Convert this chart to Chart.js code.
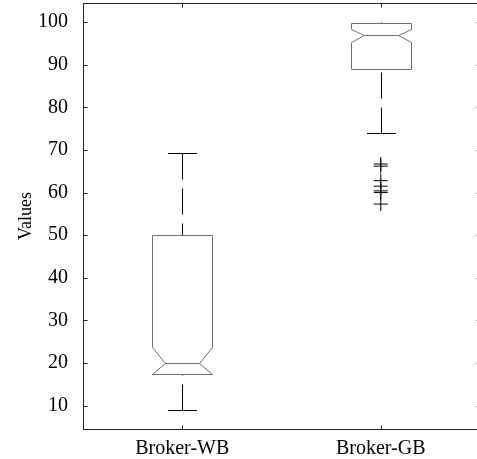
<!DOCTYPE html>
<html>
<head>
<meta charset="utf-8">
<script src="https://cdn.jsdelivr.net/npm/chart.js@4.4.1/dist/chart.umd.min.js"></script>
<style>
body{margin:0;overflow:hidden;background:#fff}
</style>
</head>
<body>
<canvas id="boxChart" width="484" height="459"></canvas>
<script>
// data
var categories = ["Broker-WB", "Broker-GB"];
var whiskerLow = [9, 74];
var q1 = [17.4, 89];
var notchLow = [17.4, 95.4];
var median = [20, 97];
var notchHigh = [23.8, 98.5];
var q3 = [50, 99.8];
var whiskerHigh = [69.2, 100];
var outliersGB = [66.7, 66.2, 62.8, 61.5, 60.4, 60.0, 57.3];
var yTicks = [10, 20, 30, 40, 50, 60, 70, 80, 90, 100];

var serif = "'Liberation Serif', 'Times New Roman', serif";

function px(v){ return Math.round(v) + 0.5; }

var boxPlugin = {
  id: 'boxes',
  afterDatasetsDraw: function(chart){
    var ctx = chart.ctx, xs = chart.scales.x, ys = chart.scales.y;
    ctx.save();
    ctx.lineWidth = 1;
    for (var i = 0; i < categories.length; i++) {
      var xc = px(xs.getPixelForValue(i + 1));
      var L = px(xs.getPixelForValue(i + 1 - 0.152));
      var R = px(xs.getPixelForValue(i + 1 + 0.152));
      var n = xs.getPixelForValue(i + 1 + 0.065) - xs.getPixelForValue(i + 1);
      var cap = xs.getPixelForValue(i + 1 + 0.075) - xs.getPixelForValue(i + 1);
      var yq1 = px(ys.getPixelForValue(q1[i]));
      var yq3 = px(ys.getPixelForValue(q3[i]));
      var ym = px(ys.getPixelForValue(median[i]));
      var ynl = px(ys.getPixelForValue(notchLow[i]));
      var ynh = px(ys.getPixelForValue(notchHigh[i]));
      var ywl = px(ys.getPixelForValue(whiskerLow[i]));
      var ywh = px(ys.getPixelForValue(whiskerHigh[i]));

      // whiskers, dashed from the cap to the box
      ctx.strokeStyle = '#000';
      ctx.setLineDash([26, 9]);
      ctx.beginPath();
      ctx.moveTo(xc, ywl); ctx.lineTo(xc, yq1);
      ctx.moveTo(xc, ywh); ctx.lineTo(xc, yq3);
      ctx.stroke();
      ctx.setLineDash([]);
      ctx.beginPath();
      ctx.moveTo(Math.round(xc - cap), ywl); ctx.lineTo(Math.round(xc + cap), ywl);
      if (whiskerHigh[i] - q3[i] > 1) {
        ctx.moveTo(Math.round(xc - cap), ywh); ctx.lineTo(Math.round(xc + cap), ywh);
      }
      ctx.stroke();

      // notched box
      ctx.strokeStyle = '#6e6e6e';
      ctx.beginPath();
      ctx.moveTo(L, yq3); ctx.lineTo(R, yq3);
      ctx.lineTo(R, ynh); ctx.lineTo(R - n, ym);
      ctx.lineTo(R, ynl); ctx.lineTo(R, yq1);
      ctx.lineTo(L, yq1); ctx.lineTo(L, ynl);
      ctx.lineTo(L + n, ym); ctx.lineTo(L, ynh);
      ctx.closePath();
      ctx.stroke();
      ctx.beginPath();
      ctx.moveTo(L + n, ym); ctx.lineTo(R - n, ym);
      ctx.stroke();
    }
    ctx.restore();
  },
  afterDraw: function(chart){
    var ctx = chart.ctx, a = chart.chartArea, xs = chart.scales.x, ys = chart.scales.y;
    ctx.save();
    ctx.strokeStyle = '#222';
    ctx.lineWidth = 1;
    ctx.strokeRect(px(a.left), px(a.top), Math.round(a.right - a.left), Math.round(a.bottom - a.top));
    ctx.beginPath();
    yTicks.forEach(function(t){
      var y = px(ys.getPixelForValue(t));
      ctx.moveTo(px(a.left), y); ctx.lineTo(px(a.left) + 4, y);
      ctx.moveTo(px(a.right), y); ctx.lineTo(px(a.right) - 4, y);
    });
    categories.forEach(function(c, i){
      var x = px(xs.getPixelForValue(i + 1));
      ctx.moveTo(x, px(a.bottom)); ctx.lineTo(x, px(a.bottom) - 4);
      ctx.moveTo(x, px(a.top)); ctx.lineTo(x, px(a.top) + 4);
    });
    ctx.stroke();
    ctx.restore();
  }
};

new Chart(document.getElementById('boxChart'), {
  type: 'scatter',
  data: {
    datasets: [{
      label: 'outliers',
      data: outliersGB.map(function(v){ return {x: 2, y: v}; }),
      pointStyle: 'cross',
      pointRadius: 7,
      borderColor: '#000',
      borderWidth: 1
    }]
  },
  options: {
    responsive: false,
    animation: false,
    events: [],
    layout: {autoPadding: false, padding: {left: 0, top: 3, right: 4, bottom: 0}},
    plugins: {legend: {display: false}, tooltip: {enabled: false}},
    scales: {
      x: {
        type: 'linear', min: 0.5, max: 2.5,
        grid: {display: false},
        border: {display: false},
        afterBuildTicks: function(s){ s.ticks = categories.map(function(c, i){ return {value: i + 1}; }); },
        afterFit: function(s){ s.height = 30; s.paddingLeft = 0; s.paddingRight = 0; },
        ticks: {
          color: '#000', padding: 0, maxRotation: 0,
          font: {family: serif, size: 20},
          callback: function(v){ return categories[v - 1] || ''; }
        }
      },
      y: {
        min: 4.5, max: 104.5,
        grid: {display: false},
        border: {display: false},
        afterBuildTicks: function(s){ s.ticks = yTicks.map(function(t){ return {value: t}; }); },
        afterFit: function(s){ s.width = 83; s.paddingTop = 0; s.paddingBottom = 0; },
        ticks: {color: '#000', padding: 7, font: {family: serif, size: 20}},
        title: {display: true, text: 'Values', color: '#000', padding: {top: 15, bottom: 0}, font: {family: serif, size: 18}}
      }
    }
  },
  plugins: [boxPlugin]
});
</script>
</body>
</html>
